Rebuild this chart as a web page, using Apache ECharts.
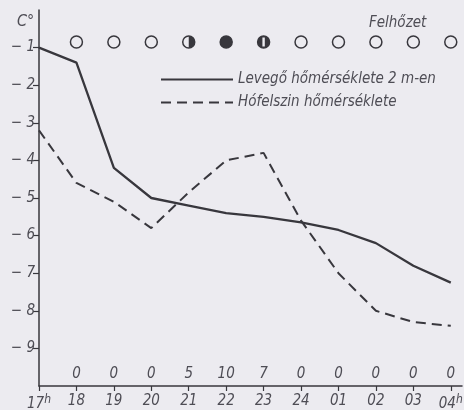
<!DOCTYPE html>
<html><head><meta charset="utf-8">
<script src="https://cdn.jsdelivr.net/npm/echarts@6/dist/echarts.min.js"></script>
<style>html,body{margin:0;padding:0;background:#ecebf0}#c{width:464px;height:410px}</style>
</head><body><div id="c"></div><script>
// ---- data ----
const hours = ['17','18','19','20','21','22','23','24','01','02','03','04'];
const airTemp = [-1.0,-1.4,-4.2,-5.0,-5.2,-5.4,-5.5,-5.65,-5.85,-6.2,-6.8,-7.25];
const snowTemp = [-3.2,-4.6,-5.1,-5.8,-4.85,-4.0,-3.8,-5.6,-7.0,-8.0,-8.3,-8.4];
const cloudHours = ['18','19','20','21','22','23','24','01','02','03','04'];
const cloudCover = [0,0,0,5,10,7,0,0,0,0,0];
const yTicks = [-1,-2,-3,-4,-5,-6,-7,-8,-9];
const airName = 'Levegő hőmérséklete 2 m-en';
const snowName = 'Hófelszin hőmérséklete';

// ---- style ----
const ink = '#38373d';
const txt = '#4e4d55';
const bg = '#ecebf0';
const FONT = '"DejaVu Sans Condensed","DejaVu Sans",sans-serif';

const hourIdx = h => hours.indexOf(h);
const xTickVals = hours.map((h, i) => i);
const cloudData = cloudHours.map((h, i) => [hourIdx(h), 0, cloudCover[i]]);

const chart = echarts.init(document.getElementById('c'), null, {renderer: 'canvas'});
chart.setOption({
  backgroundColor: bg,
  animation: false,
  title: [
    {text: 'C°', left: 12, top: 9, textStyle: {fontFamily: FONT, fontStyle: 'italic', fontWeight: 'normal', fontSize: 16, color: txt}},
    {text: 'Felhőzet', left: 364, top: 11, textStyle: {fontFamily: FONT, fontStyle: 'italic', fontWeight: 'normal', fontSize: 15, color: txt}}
  ],
  legend: {
    orient: 'vertical', left: 155, top: 67, itemWidth: 72, itemHeight: 14, itemGap: 8,
    data: [airName, snowName],
    itemStyle: {opacity: 0},
    textStyle: {fontFamily: FONT, fontStyle: 'italic', fontSize: 15, color: txt}
  },
  grid: [
    {left: 39, right: 2, top: 10, bottom: 24, outerBoundsMode: 'none', containLabel: false},
    {left: 39, right: 2, top: 35, height: 14, outerBoundsMode: 'none', containLabel: false},
    {left: 39, right: 2, top: 367, height: 14, outerBoundsMode: 'none', containLabel: false}
  ],
  xAxis: [
    {
      type: 'value', gridIndex: 0, min: 0, max: 11.3, interval: 1, position: 'bottom',
      splitLine: {show: false},
      axisLine: {onZero: false, lineStyle: {color: ink, width: 1.5}},
      axisTick: {inside: false, customValues: xTickVals, length: 5, lineStyle: {color: ink, width: 1.2}},
      axisLabel: {
        inside: false, customValues: xTickVals, margin: 8,
        fontFamily: FONT, fontStyle: 'italic', fontSize: 15, color: txt,
        formatter: v => {
          const i = Math.round(v);
          const s = hours[i];
          return (i === 0 || i === hours.length - 1) ? s + '{h|h}' : s;
        },
        rich: {h: {fontFamily: FONT, fontStyle: 'italic', fontSize: 12, color: txt, verticalAlign: 'bottom', padding: [0, 0, 9, 0]}}
      }
    },
    {type: 'value', gridIndex: 1, min: 0, max: 11.3, show: false},
    {type: 'value', gridIndex: 2, min: 0, max: 11.3, show: false}
  ],
  yAxis: [
    {
      type: 'value', gridIndex: 0, min: -10, max: 0, interval: 1,
      splitLine: {show: false},
      axisLine: {show: true, onZero: false, lineStyle: {color: ink, width: 1.5}},
      axisTick: {show: true, inside: false, customValues: yTicks, length: 6, lineStyle: {color: ink, width: 1.2}},
      axisLabel: {
        customValues: yTicks, margin: 4,
        fontFamily: FONT, fontStyle: 'italic', fontSize: 15, color: txt,
        formatter: v => '− ' + Math.abs(v)
      }
    },
    {type: 'category', gridIndex: 1, data: ['Felhőzet'], show: false},
    {type: 'category', gridIndex: 2, data: ['Felhőzet'], show: false}
  ],
  series: [
    {
      name: airName, type: 'line', xAxisIndex: 0, yAxisIndex: 0,
      data: airTemp.map((v, i) => [i, v]),
      symbol: 'none', color: ink,
      lineStyle: {color: ink, width: 2.3}
    },
    {
      name: snowName, type: 'line', xAxisIndex: 0, yAxisIndex: 0,
      data: snowTemp.map((v, i) => [i, v]),
      symbol: 'none', color: ink,
      lineStyle: {color: ink, width: 2, type: [10, 6]}
    },
    {
      type: 'custom', xAxisIndex: 1, yAxisIndex: 1,
      data: cloudData,
      renderItem: (params, api) => {
        const c = api.coord([api.value(0), api.value(1)]);
        const v = api.value(2);
        const r = 6;
        const ch = [];
        if (v >= 10) {
          ch.push({type: 'circle', shape: {cx: c[0], cy: c[1], r}, style: {fill: ink, stroke: ink, lineWidth: 1.5}});
        } else if (v > 5) {
          ch.push({type: 'circle', shape: {cx: c[0], cy: c[1], r}, style: {fill: ink, stroke: ink, lineWidth: 1.5}});
          ch.push({type: 'rect', shape: {x: c[0] - 1.2, y: c[1] - r + 1.5, width: 2.4, height: 2 * r - 3}, style: {fill: bg}});
        } else if (v > 0) {
          ch.push({type: 'circle', shape: {cx: c[0], cy: c[1], r}, style: {fill: bg, stroke: ink, lineWidth: 1.5}});
          ch.push({type: 'sector', shape: {cx: c[0], cy: c[1], r0: 0, r, startAngle: -Math.PI / 2, endAngle: Math.PI / 2}, style: {fill: ink}});
        } else {
          ch.push({type: 'circle', shape: {cx: c[0], cy: c[1], r}, style: {fill: 'none', stroke: ink, lineWidth: 1.5}});
        }
        return {type: 'group', children: ch};
      }
    },
    {
      type: 'custom', xAxisIndex: 2, yAxisIndex: 2,
      data: cloudData, silent: true,
      renderItem: (params, api) => {
        const c = api.coord([api.value(0), api.value(1)]);
        return {
          type: 'text', x: c[0], y: c[1],
          style: {
            text: String(api.value(2)), fill: txt, align: 'center', verticalAlign: 'middle',
            font: 'italic 15px ' + FONT
          }
        };
      }
    }
  ]
});
</script></body></html>
